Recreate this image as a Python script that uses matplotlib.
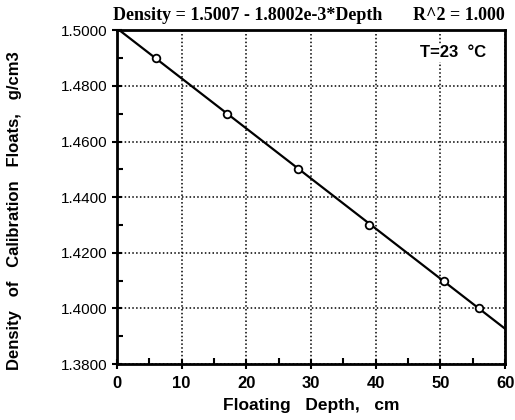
"""Calibration floats: density vs floating depth"""

import matplotlib
matplotlib.use("Agg")
import matplotlib.pyplot as plt
import numpy as np

# Measured floats
depth = [6.0, 17.0, 28.0, 39.0, 50.5, 56.0]
density = [1.4900, 1.4700, 1.4500, 1.4300, 1.4100, 1.4000]

# Linear fit reported on the chart
intercept = 1.5007
slope = -1.8002e-3
fit_depth = [0, 60]

x_ticks = [0, 10, 20, 30, 40, 50, 60]
y_ticks = [1.38, 1.40, 1.42, 1.44, 1.46, 1.48, 1.50]

plt.rcParams["font.family"] = ["Liberation Sans", "DejaVu Sans"]

fig = plt.figure(figsize=(5.15, 4.2), dpi=100)
ax = fig.add_axes([0.227, 0.133, 0.754, 0.795])

fit_y = [intercept + slope * d for d in fit_depth]
ax.plot(fit_depth, fit_y, color="black", linewidth=1.6, zorder=3)
ax.plot(depth, density, linestyle="none", marker="o", markersize=5.5,
        markerfacecolor="white", markeredgecolor="black", markeredgewidth=1.3, zorder=4)

ax.set_xlim(0, 60)
ax.set_ylim(1.38, 1.50)
ax.set_xticks(x_ticks)
ax.set_yticks(y_ticks)
ax.set_xticks(np.arange(5, 60, 10), minor=True)
ax.set_yticks(np.arange(1.39, 1.50, 0.02), minor=True)
ax.set_xticklabels([str(t) for t in x_ticks], fontsize=12, fontweight="bold")
ax.set_yticklabels([f"{t:.4f}" for t in y_ticks], fontsize=11)
ax.tick_params(which="major", direction="inout", length=7, width=1.5)
ax.tick_params(which="minor", direction="in", length=4, width=1.5)
ax.tick_params(axis="x", which="major", pad=5)

ax.grid(True, which="major", linestyle=(0, (1, 1.5)), color="black", linewidth=1.1)
for s in ax.spines.values():
    s.set_linewidth(2)

ax.set_xlabel("Floating   Depth,   cm", fontsize=12.5, fontweight="bold", labelpad=5)
ax.set_ylabel("Density   of   Calibration   Floats,   g/cm3", fontsize=12,
              fontweight="bold", labelpad=22)
ax.yaxis.set_label_coords(-0.245, 0.46)

serif = ["Liberation Serif", "DejaVu Serif"]
fig.text(113 / 515, 1 - 15 / 420, "Density = 1.5007 - 1.8002e-3*Depth",
         ha="left", va="center", fontsize=13, fontweight="bold", family=serif)
fig.text(505 / 515, 1 - 15 / 420, "R^2 = 1.000",
         ha="right", va="center", fontsize=13, fontweight="bold", family=serif)
ax.text(0.95, 0.955, "T=23  \u00b0C", transform=ax.transAxes, ha="right", va="top",
        fontsize=12, fontweight="bold",
        bbox=dict(facecolor="white", edgecolor="none", pad=1))

fig.savefig("out.png", dpi=100)
